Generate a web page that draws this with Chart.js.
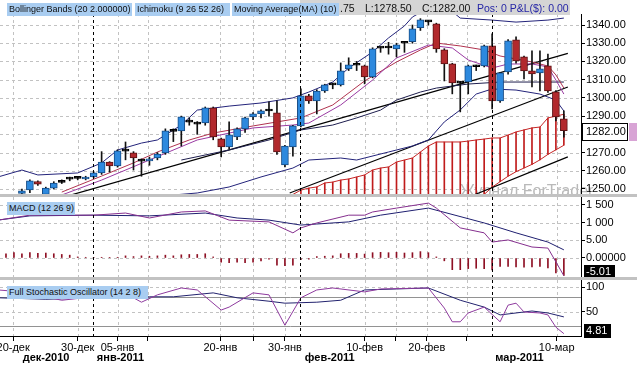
<!DOCTYPE html>
<html lang="ru">
<head>
<meta charset="utf-8">
<title>S&amp;P 500 — дневной график</title>
<script src="https://cdn.jsdelivr.net/npm/chart.js@4.4.1/dist/chart.umd.min.js"></script>
<style>
  html, body { margin: 0; padding: 0; background: #fff; }
  #chart { position: relative; width: 637px; height: 365px; overflow: hidden; background: #fff;
    font-family: "Liberation Sans", Arial, sans-serif; }
  #chart canvas { position: absolute; left: 0; }
  .sep { position: absolute; left: 0; width: 637px; height: 3px; background: #c2c2c2; }
  .tag { position: absolute; height: 13px; line-height: 13px; font-size: 9px; padding-left: 2px;
    background: #a9cdf1; color: #101010; white-space: nowrap; overflow: hidden; box-sizing: border-box; }
  #quote { position: absolute; left: 300px; top: 0; width: 270px; height: 15px; background: #d5d5d5;
    font-size: 10.5px; line-height: 16px; color: #111; white-space: nowrap; }
  #quote span { position: absolute; top: 0; }
  #quote .pos { color: #2626a6; }
</style>
</head>
<body>
<div id="chart">
  <canvas id="price" width="637" height="195" style="top:0"></canvas>
  <canvas id="macd" width="637" height="80" style="top:197px"></canvas>
  <canvas id="stoch" width="637" height="85" style="top:280px"></canvas>
  <div class="sep" style="top:194px"></div>
  <div class="sep" style="top:277px"></div>
  <div id="quote">
    <span style="left:40px">.75</span>
    <span style="left:65px">L:1278.50</span>
    <span style="left:122px">C:1282.00</span>
    <span class="pos" style="left:177px">Pos: 0 P&amp;L($): 0.00</span>
  </div>
  <div class="tag" style="left:7px;top:3px;width:125px">Bollinger Bands (20 2.000000)</div>
  <div class="tag" style="left:135px;top:3px;width:95px">Ichimoku (9 26 52 26)</div>
  <div class="tag" style="left:232px;top:3px;width:107px">Moving Average(MA) (10)</div>
  <div class="tag" style="left:7px;top:202px;width:68px">MACD (12 26 9)</div>
  <div class="tag" style="left:7px;top:286px;width:141px">Full Stochastic Oscillator (14 2 8)</div>
</div>

<script>
// Daily sessions (Sunday sessions included), one slot per candle
const candleOpen = [1240, 1242, 1247.5, 1249.5, 1254, 1247, 1250.5, 1253.6, 1255.4, 1255.8,
  1255.5, 1256.6, 1258.8, 1264.8, 1262.6, 1270.8, 1269.8, 1265.3, 1265.4, 1267,
  1269.8, 1281.6, 1281.9, 1286.7, 1285.6, 1286.3, 1294.5, 1277.5, 1273.1, 1278.6,
  1283, 1289.6, 1291.2, 1292.8, 1291.8, 1263.2, 1273.1, 1284.6, 1301.1, 1298.4,
  1303.8, 1307.1, 1307.1, 1315.9, 1317.9, 1317.6, 1311.5, 1327.3, 1327.4, 1326.9,
  1330, 1330.8, 1338.5, 1341.7, 1340.7, 1326.4, 1318.7, 1308.1, 1308.8, 1317.1,
  1317.6, 1328.6, 1298.4, 1314.3, 1331.9, 1322.5, 1314.8, 1313.7, 1317.6, 1303.3, 1288.5];
const candleHigh = [1244, 1245, 1250, 1255, 1254.5, 1251, 1254, 1255, 1256.5, 1256.5,
  1257, 1259.5, 1270.5, 1265, 1271.5, 1275.8, 1270.5, 1266.5, 1267.5, 1270,
  1283, 1283, 1290, 1289, 1287, 1295, 1295, 1278, 1286.8, 1283.5,
  1289.5, 1292, 1293.5, 1297.8, 1298.4, 1274, 1285, 1305, 1302, 1304.5,
  1307.5, 1308, 1319.2, 1322, 1320, 1318, 1327.5, 1328, 1330.5, 1330,
  1331, 1340, 1343.5, 1342.5, 1341, 1327, 1319, 1309, 1318, 1318,
  1329, 1335.2, 1314, 1332, 1333.5, 1323, 1325.8, 1325.8, 1324, 1304, 1292.9];
const candleLow = [1238, 1240, 1246, 1248, 1252, 1245, 1250, 1253, 1254.5, 1255,
  1255, 1256, 1258, 1259.3, 1262, 1266, 1260.4, 1257, 1263, 1266,
  1269, 1276, 1273.6, 1285, 1280, 1285, 1277, 1267.6, 1272, 1277,
  1281, 1288, 1289, 1290, 1269, 1262.1, 1268, 1284, 1297, 1291.2,
  1303, 1305, 1306.5, 1315, 1315, 1307.7, 1311, 1325, 1324, 1322.5,
  1325, 1330, 1337, 1340, 1325, 1309.3, 1302.2, 1292.3, 1302.2, 1315,
  1317, 1294, 1297.5, 1313, 1319, 1310.4, 1306, 1303.8, 1303, 1287.4, 1278.5];
const candleClose = [1242, 1244, 1249, 1254.5, 1252.7, 1250.5, 1253.3, 1253.9, 1255.6, 1256,
  1256.6, 1258.8, 1264.8, 1262.6, 1270.9, 1271, 1267, 1265.5, 1266.5, 1269.2,
  1281.9, 1281.8, 1289.6, 1286.9, 1285.8, 1294.5, 1278.6, 1273.1, 1279.7, 1283,
  1289, 1291.2, 1292.9, 1293, 1270.3, 1273.6, 1284.6, 1301.1, 1298.4, 1303.8,
  1307.1, 1307.3, 1314.8, 1318.1, 1318.1, 1311.5, 1326.9, 1327.5, 1327.6, 1329.1,
  1330.2, 1337.9, 1342.9, 1341.9, 1326.9, 1318.7, 1308.2, 1308.3, 1317.6, 1317.3,
  1328.6, 1298.4, 1313.7, 1331.3, 1320.3, 1314.8, 1313.2, 1315.9, 1303.8, 1289.6, 1282];

// Ichimoku cloud edges per slot (null = not on the panel)
const cloudTop = [null, null, null, null, null, null, null, null, null, null,
  null, null, null, null, null, null, null, null, null, null,
  null, null, null, null, null, null, null, null, null, null,
  null, null, null, null, null, null, 1247, 1249.4, 1250.5, 1251.1,
  1253.3, 1253.8, 1254.9, 1255.5, 1256.6, 1257.7, 1260.4, 1261.5, 1262.1, 1264.8,
  1265.9, 1267, 1270.3, 1273.6, 1275.8, 1275.8, 1275.8, 1275.8, 1276.3, 1276.9,
  1277.4, 1278, 1278, 1279.6, 1281.3, 1282.4, 1283.5, 1284, 1289, 1290, 1291];
const cloudBottom = [null, null, null, null, null, null, null, null, null, null,
  null, null, null, null, null, null, null, null, null, null,
  null, null, null, null, null, null, null, null, null, null,
  null, null, null, null, null, null, null, null, null, null,
  null, null, null, null, null, null, null, null, null, null,
  null, null, null, null, null, null, null, null, null, 1244,
  1247, 1251, 1254, 1257, 1259.5, 1261.5, 1263.5, 1266, 1269, 1271.5, 1274];

// Overlay lines as [slot, price]
const bbUpper = [[-1, 1256.6], [2, 1260.4], [4, 1257.7], [9, 1258.8], [12, 1264.3], [14, 1271.4],
  [17, 1275.2], [19, 1276.9], [22, 1285.1], [24, 1293.3], [28, 1295.5], [32, 1297.2], [36, 1300],
  [38, 1303.2], [41, 1308.7], [43, 1316.4], [46, 1325.2], [48, 1332.9], [50, 1339.5], [51, 1344.4],
  [53, 1349.3], [55, 1351], [57, 1343.8], [61, 1342.7], [64, 1341.6], [68, 1342.7], [70, 1343.8]];
const bbLower = [[18, 1245.6], [24, 1247.8], [28, 1251.1], [32, 1256.6], [36, 1261.5], [38, 1265.9],
  [42, 1267], [44, 1265.9], [48, 1270.3], [51, 1273.6], [53, 1276.9], [55, 1286.8], [57, 1293.4],
  [59, 1302.1], [61, 1304.9], [64, 1304.3], [67, 1302.1], [69, 1298.8], [70, 1292.8]];
const ma10 = [[7, 1248.3], [12, 1257.1], [16, 1264.3], [19, 1270.3], [23, 1276.9], [26, 1280.7],
  [31, 1284.6], [34, 1286.8], [37, 1289], [41, 1296.1], [45, 1309.3], [49, 1319.7], [52, 1326.3],
  [54, 1330.1], [57, 1328.5], [60, 1326.3], [62, 1323], [66, 1319.7], [68, 1317.5], [69, 1312.6], [70, 1305.4]];
const tenkan = [[7, 1246.7], [12, 1254.9], [18, 1265.9], [24, 1276.9], [31, 1283.5], [36, 1285.1],
  [38, 1286.2], [42, 1296.1], [46, 1309.8], [49, 1321.9], [53, 1329], [56, 1327.4], [58, 1320.8],
  [61, 1316.4], [63, 1318.6], [66, 1318.6], [68, 1317], [69, 1309.8], [70, 1302.1]];
const kijun = [[22, 1265.9], [28, 1271.4], [33, 1276.9], [37, 1282.4], [41, 1285.1], [44, 1289],
  [47, 1293.3], [49, 1298.8], [52, 1303.2], [54, 1305.4], [58, 1307.6], [62, 1308.7], [70, 1308.7]];
const trendA = [[8, 1246.5], [70.5, 1324.4]];
const trendB = [[35.6, 1247.8], [70.5, 1306]];
const trendC = [[58.7, 1246.7], [70.5, 1267.6]];

// MACD (12 26 9)
const macdHist = [1.2, 1.5, 1.2, 1.5, 1.3, 1.4, 1.2, 1.0, 0.8, 0.3,
  0.2, 0.1, 0.2, 0.1, 0.2, 0.6, 0.4, 0.6, 0.5, 0.6,
  0.8, 0.6, 0.9, 1.0, 1.0, 1.2, 0.3, -1.2, -1.3, -1.2,
  -1.3, -1.2, -0.8, -0.3, -2.0, -2.2, -2.0, -0.5, -0.3, 0.4,
  0.5, 0.6, 1.2, 1.3, 1.3, 1.1, 1.5, 1.6, 1.5, 1.6,
  1.4, 1.5, 1.8, 1.5, 0.3, -0.8, -3.3, -3.3, -3.0, -2.9,
  -3.0, -3.4, -2.4, -2.4, -2.5, -2.6, -2.5, -2.4, -2.8, -4.2, -4.9];
const macdLine = [[-1, 10.7], [3, 12.1], [11, 12.1], [15, 12.7], [18, 11.3], [22, 13], [25, 13.3],
  [28, 10.7], [33, 10.2], [36, 7.1], [37, 8.5], [39, 9.9], [43, 12.1], [45, 12.1], [46, 13],
  [49, 14.1], [53, 15.5], [54, 14.1], [57, 8.5], [60, 7.1], [61, 4.5], [63, 5.1], [66, 3.1],
  [68, 2.8], [70, -5.01]];
const macdSignal = [[-1, 10.7], [3, 11.9], [11, 12.1], [18, 11.9], [25, 12.7], [29, 11.3], [33, 10.7],
  [37, 9.3], [39, 9.6], [43, 10.2], [47, 12.1], [53, 14.1], [60, 9.9], [64, 7.1], [68, 4.5], [70, 2.3]];
const macdTickValues = [0, 5, 10, 15];
const macdTickLabels = ['0.00000', '5.00', '1 000', '1 500'];

// Full Stochastic (14 2 8)
const stochK = [[-1, 94], [2, 90], [7, 73], [12, 82], [16, 78], [17, 69], [19, 84], [22, 98], [24, 94],
  [27, 53], [28, 59], [31, 88], [33, 84], [35, 22], [37, 78], [39, 94], [41, 98], [45, 90], [47, 96],
  [53, 98], [55, 57], [56, 29], [57, 29], [58, 47], [60, 59], [62, 29], [63, 63], [64, 67], [65, 49],
  [67, 47], [68, 43], [69, 18], [70, 4.81]];
const stochD = [[-1, 78], [5, 75], [12, 78], [18, 80], [21, 80], [26, 88], [29, 78], [33, 71], [35, 67],
  [39, 69], [42, 73], [45, 94], [49, 96], [53, 98], [57, 73], [60, 59], [62, 43], [66, 51], [68, 47], [70, 39]];

// Axes
const priceTicks = [1250, 1260, 1270, 1280, 1290, 1300, 1310, 1320, 1330, 1340];
const dateTickSlots = [0.9, 9, 14, 17.8, 26.9, 31, 35, 45, 48.9, 52.8, 57.8, 69.1];
const dateTickLabels = ['20-дек', '30-дек', '05-янв', '', '20-янв', '', '30-янв', '10-фев', '', '20-фев', '', '10-мар'];
const monthBreakSlots = [10.9, 36.9, 61];
const monthLabels = ['дек-2010', 'янв-2011', 'фев-2011', 'мар-2011'];
const monthLabelSlots = [2.1, 11.4, 37.5, 61.4];

Chart.defaults.font.family = '"Liberation Sans", Arial, sans-serif';
Chart.defaults.color = '#000';

const X_MIN = -0.75;
const X_MAX = 72.15;
const FONT = '"Liberation Sans", Arial, sans-serif';

const slots = candleOpen.map((_, i) => i);
const toPts = (pairs) => pairs.map(([x, y]) => ({ x, y }));

function candleKind(i) {
  const d = candleClose[i] - candleOpen[i];
  if (Math.abs(d) < 0.5) return 0;
  return d > 0 ? 1 : -1;
}

function lineSet(pairs, color, width) {
  return {
    type: 'line', data: toPts(pairs), borderColor: color, borderWidth: width || 1,
    pointRadius: 0, fill: false, clip: 0
  };
}

function barSet(data, color, thickness, extra) {
  return Object.assign({
    type: 'bar', data, backgroundColor: color, barThickness: thickness,
    grouped: false, clip: 0, borderWidth: 0
  }, extra || {});
}

function hiddenX() {
  return { type: 'linear', min: X_MIN, max: X_MAX, offset: false, display: false };
}

function rightAxis(min, max, ticks, labelFor) {
  return {
    position: 'right', min, max,
    afterBuildTicks: (s) => { s.ticks = ticks.map((v) => ({ value: v })); },
    afterFit: (s) => { s.width = 56; s.paddingTop = 0; s.paddingBottom = 0; },
    ticks: { autoSkip: false, padding: 1, font: { size: 11 }, color: '#000', callback: labelFor },
    grid: { drawOnChartArea: false, tickLength: 4, color: '#000' },
    border: { color: '#000' }
  };
}

function panelPlugin(cfg) {
  return {
    id: 'panel',
    beforeDraw(chart) {
      if (!cfg.watermark) return;
      const ctx = chart.ctx;
      ctx.save();
      ctx.font = '16px ' + FONT;
      ctx.fillStyle = '#b9b9b9';
      ctx.fillText(cfg.watermark, 460, 196);
      ctx.restore();
    },
    beforeDatasetsDraw(chart) {
      const { ctx, chartArea: a, scales: { x, y } } = chart;
      ctx.save();
      ctx.beginPath();
      ctx.rect(a.left, a.top, a.right - a.left, a.bottom - a.top);
      ctx.clip();
      ctx.lineWidth = 1;
      ctx.setLineDash([3, 3]);
      ctx.strokeStyle = '#c2c2c2';
      ctx.beginPath();
      dateTickSlots.forEach((v) => {
        const px = Math.round(x.getPixelForValue(v)) + 0.5;
        ctx.moveTo(px, a.top); ctx.lineTo(px, a.bottom);
      });
      cfg.rows.forEach((v) => {
        const py = Math.round(y.getPixelForValue(v)) + 0.5;
        ctx.moveTo(a.left, py); ctx.lineTo(a.right, py);
      });
      ctx.stroke();
      if (cfg.solidRows) {
        ctx.setLineDash([]);
        ctx.strokeStyle = '#929292';
        ctx.beginPath();
        cfg.solidRows.forEach((v) => {
          const py = Math.round(y.getPixelForValue(v)) + 0.5;
          ctx.moveTo(a.left, py); ctx.lineTo(a.right, py);
        });
        ctx.stroke();
      }
      ctx.restore();
    },
    afterDatasetsDraw(chart) {
      const { ctx, chartArea: a, scales: { x } } = chart;
      ctx.save();
      ctx.lineWidth = 1;
      ctx.setLineDash([3, 3]);
      ctx.strokeStyle = '#000';
      ctx.beginPath();
      monthBreakSlots.forEach((v) => {
        const px = Math.round(x.getPixelForValue(v)) + 0.5;
        ctx.moveTo(px, a.top); ctx.lineTo(px, a.bottom);
      });
      ctx.stroke();
      ctx.restore();
    },
    afterDraw(chart) {
      const { ctx, chartArea: a, scales: { x, y } } = chart;
      ctx.save();
      ctx.font = '11px ' + FONT;
      ctx.textBaseline = 'middle';
      const b = cfg.valueBox;
      if (b) {
        const py = Math.min(Math.round(y.getPixelForValue(b.value)) + 1, a.bottom - 5);
        const text = b.value.toFixed(2);
        if (b.dark) {
          const w = Math.ceil(ctx.measureText(text).width) + 5;
          ctx.fillStyle = '#000';
          ctx.fillRect(a.right + 3, py - 7, w, 14);
          ctx.fillStyle = '#fff';
          ctx.fillText(text, a.right + 5, py);
        } else {
          ctx.fillStyle = '#fff';
          ctx.fillRect(a.right + 1, py - 9, 46, 18);
          ctx.strokeStyle = '#000';
          ctx.strokeRect(a.right + 1.5, py - 8.5, 45, 17);
          ctx.fillStyle = '#000';
          ctx.fillText(text, a.right + 5, py);
          ctx.fillStyle = '#d8a4d5';
          ctx.fillRect(a.right + 48, py - 9, 8, 18);
        }
      }
      if (cfg.months) {
        ctx.font = 'bold 11px ' + FONT;
        ctx.fillStyle = '#000';
        monthLabels.forEach((t, i) => ctx.fillText(t, x.getPixelForValue(monthLabelSlots[i]), 78));
      }
      ctx.restore();
    }
  };
}

function baseOptions(scales, padTop) {
  return {
    responsive: false, animation: false, devicePixelRatio: 1, events: [],
    layout: { padding: { top: padTop || 0, left: 0, right: 0, bottom: 0 } },
    plugins: { legend: { display: false }, tooltip: { enabled: false } },
    scales
  };
}

// Price panel (datasets listed top-most first)
const bodyFill = slots.map((i) => ['#000000', '#2d89de', '#b2292d'][[0, 1, -1].indexOf(candleKind(i))]);
const bodyEdge = slots.map((i) => ['#000000', '#164c86', '#5c1214'][[0, 1, -1].indexOf(candleKind(i))]);
const lastClose = candleClose[candleClose.length - 1];

new Chart(document.getElementById('price'), {
  type: 'line',
  data: {
    datasets: [
      barSet(slots.map((i) => ({ x: i, y: [candleOpen[i], candleClose[i]] })), bodyFill, 7,
        { borderColor: bodyEdge, borderWidth: 1, borderSkipped: false, minBarLength: 2 }),
      barSet(slots.map((i) => ({ x: i, y: [candleLow[i], candleHigh[i]] })), '#111111', 1),
      lineSet(tenkan, '#9a3aa2'),
      lineSet(ma10, '#b0334f'),
      lineSet(kijun, '#1e1e4e'),
      lineSet(bbUpper, '#23237a'),
      lineSet(bbLower, '#23237a'),
      lineSet(trendA, '#000000', 1.2),
      lineSet(trendB, '#000000', 1.2),
      lineSet(trendC, '#000000', 1.2),
      lineSet(slots.filter((i) => cloudTop[i] !== null).map((i) => [i, cloudTop[i]]), '#c42424'),
      lineSet(slots.filter((i) => cloudBottom[i] !== null).map((i) => [i, cloudBottom[i]]), '#c42424'),
      barSet(slots.filter((i) => cloudTop[i] !== null)
        .map((i) => ({ x: i, y: [cloudBottom[i] !== null ? cloudBottom[i] : 1230, cloudTop[i]] })), '#c01c1c', 1)
    ]
  },
  options: baseOptions({
    x: hiddenX(),
    y: rightAxis(1246.7, 1346.04, priceTicks, (v) => Number(v).toFixed(2))
  }, 14),
  plugins: [panelPlugin({ rows: priceTicks, watermark: 'Журнал ForTrader', valueBox: { value: lastClose } })]
});

// MACD panel
new Chart(document.getElementById('macd'), {
  type: 'line',
  data: {
    datasets: [
      lineSet(macdLine, '#852f8e'),
      lineSet(macdSignal, '#1f1f70'),
      barSet(slots.map((i) => ({ x: i, y: macdHist[i] })), '#8e1024', 1)
    ]
  },
  options: baseOptions({
    x: hiddenX(),
    y: rightAxis(-5.37, 17.23, macdTickValues, (v, i) => macdTickLabels[i])
  }),
  plugins: [panelPlugin({ rows: macdTickValues, valueBox: { value: macdLine[macdLine.length - 1][1], dark: true } })]
});

// Stochastic panel with the date axis
new Chart(document.getElementById('stoch'), {
  type: 'line',
  data: {
    datasets: [
      lineSet(stochK, '#8e3a9e'),
      lineSet(stochD, '#22226e')
    ]
  },
  options: baseOptions({
    x: {
      type: 'linear', min: X_MIN, max: X_MAX, offset: false, position: 'bottom',
      afterBuildTicks: (s) => { s.ticks = dateTickSlots.map((v) => ({ value: v })); },
      afterFit: (s) => { s.height = 29; s.paddingLeft = 0; s.paddingRight = 0; },
      ticks: { autoSkip: false, maxRotation: 0, padding: 0, font: { size: 11 }, color: '#000',
        callback: (v, i) => dateTickLabels[i] },
      grid: { drawOnChartArea: false, tickLength: 5, color: '#000' },
      border: { color: '#000' }
    },
    y: rightAxis(0, 114.3, [50, 100], (v) => String(v))
  }),
  plugins: [panelPlugin({ rows: [50, 100], solidRows: [20, 80], months: true,
    valueBox: { value: stochK[stochK.length - 1][1], dark: true } })]
});
</script>
</body>
</html>
